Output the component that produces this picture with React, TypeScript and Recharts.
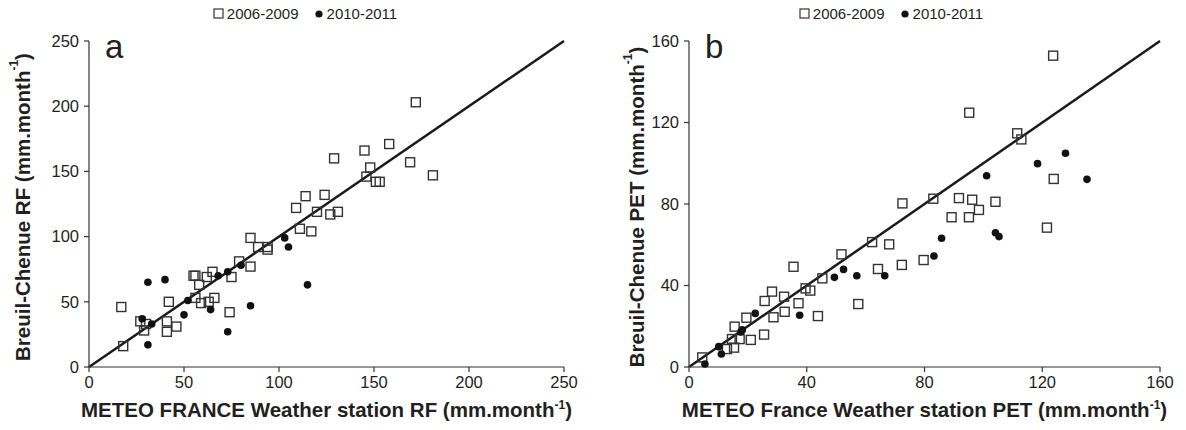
import { ScatterChart, Scatter, XAxis, YAxis, ReferenceLine } from "recharts";

// tick labels
const rfTicks = [0, 50, 100, 150, 200, 250];
const petTicks = [0, 40, 80, 120, 160];
const periods = ["2006-2009", "2010-2011"];

// rainfall, station (x) vs Breuil-Chenue (y)
const rf0609: [number, number][] = [
  [17, 46], [18, 16], [27, 35], [30, 33], [29, 28], [41, 35], [41, 27], [46, 31],
  [42, 50], [55, 70], [56, 70], [58, 63], [62, 69], [65, 73], [75, 69], [79, 81],
  [85, 77], [94, 90], [56, 53], [59, 49], [63, 50], [66, 53], [74, 42], [85, 99],
  [89, 92], [94, 92], [111, 106], [117, 104], [109, 122], [114, 131], [120, 119],
  [124, 132], [127, 117], [131, 119], [129, 160], [145, 166], [148, 153], [146, 146],
  [151, 142], [153, 142], [158, 171], [169, 157], [181, 147], [172, 203],
];
const rf1011: [number, number][] = [
  [31, 65], [40, 67], [28, 37], [33, 33], [31, 17], [50, 40], [52, 51], [64, 44],
  [68, 70], [73, 73], [80, 78], [85, 47], [73, 27], [103, 99], [105, 92], [115, 63],
];

// potential evapotranspiration
const pet0609: [number, number][] = [
  [4.5, 4.7], [12.9, 8.8], [15.3, 9.5], [14.6, 13.7], [17.2, 13.7], [15.5, 19.8],
  [21, 13.3], [19.5, 24.2], [25.5, 15.9], [25.7, 32.4], [28.2, 37], [28.7, 24.4],
  [32.3, 34.5], [32.5, 27.1], [35.5, 49.2], [37.2, 31.3], [39.6, 38.6], [41.2, 37.5],
  [43.8, 25], [45.3, 43.5], [51.8, 55.3], [57.5, 30.9], [62.2, 61.3], [64.2, 48.1],
  [68, 60.2], [72.3, 50.1], [72.5, 80.3], [79.7, 52.5], [83, 82.6], [89.2, 73.5],
  [91.7, 82.9], [95.1, 73.5], [96.2, 82.1], [98.5, 77.1], [104.1, 81.1], [95.2, 124.8],
  [111.5, 114.7], [112.9, 111.7], [123.9, 92.3], [121.6, 68.4], [123.7, 152.8],
];
const pet1011: [number, number][] = [
  [5.4, 1.5], [10.1, 10], [11, 6.4], [17.6, 17.2], [18.1, 18.2], [22.5, 26.3],
  [37.6, 25.4], [49.4, 44], [52.5, 47.9], [57, 44.8], [66.5, 44.8], [83.2, 54.5],
  [85.8, 63.2], [101.1, 93.9], [104.1, 65.9], [105.3, 64], [118.4, 99.8],
  [127.9, 104.9], [135.2, 92.1],
];

const FONT = "'Liberation Sans', Arial, sans-serif";
const INK = "#231f20";

const toPoints = (pairs: [number, number][]) => pairs.map(([x, y]) => ({ x, y }));

function OpenSquare(props: any) {
  const { cx, cy } = props;
  return <rect x={cx - 4.5} y={cy - 4.5} width={9} height={9} fill="none" stroke="#333" strokeWidth={1.4} />;
}

function Dot(props: any) {
  return <circle cx={props.cx} cy={props.cy} r={3.8} fill="#111" />;
}

function XTitle(props: any) {
  const { viewBox, text } = props;
  const { x, y, width } = viewBox;
  return (
    <text x={x + width / 2} y={y + 50} textAnchor="middle" fontFamily={FONT} fontWeight="bold" fontSize={20.5} fill={INK}>
      {text} (mm.month<tspan dy={-8} fontSize={12}>-1</tspan><tspan dy={8}>)</tspan>
    </text>
  );
}

function YTitle(props: any) {
  const { viewBox, text, cx } = props;
  const cy = viewBox.y + viewBox.height / 2 + 3;
  return (
    <text
      x={cx}
      y={cy}
      transform={`rotate(-90 ${cx} ${cy})`}
      textAnchor="middle"
      dominantBaseline="central"
      fontFamily={FONT}
      fontWeight="bold"
      fontSize={20.5}
      fill={INK}
    >
      {text} (mm.month<tspan dy={-8} fontSize={12}>-1</tspan><tspan dy={8}>)</tspan>
    </text>
  );
}

function LegendRow({ center }: { center: number }) {
  return (
    <div
      style={{
        position: "absolute", top: 5, left: center - 110, width: 220,
        display: "flex", justifyContent: "center", alignItems: "center",
        fontFamily: FONT, fontSize: 15, color: INK, whiteSpace: "nowrap",
      }}
    >
      <svg width={11} height={11} style={{ marginRight: 3 }}>
        <rect x={1} y={1} width={9} height={9} fill="none" stroke="#333" strokeWidth={1.2} />
      </svg>
      <span>{periods[0]}</span>
      <svg width={10} height={10} style={{ marginLeft: 15, marginRight: 3 }}>
        <circle cx={5} cy={5} r={3.6} fill="#111" />
      </svg>
      <span>{periods[1]}</span>
    </div>
  );
}

interface PanelProps {
  letter: string;
  max: number;
  ticks: number[];
  a: [number, number][];
  b: [number, number][];
  xTitle: string;
  yTitle: string;
  yAxisWidth: number;
  yTitleX: number;
  rightMargin: number;
  legendCenter: number;
}

function Panel(p: PanelProps) {
  const tick = { fontFamily: FONT, fontSize: 16.5, fill: INK };
  return (
    <div style={{ position: "relative", width: 593, height: 430 }}>
      <ScatterChart width={593} height={430} margin={{ top: 41, right: p.rightMargin, bottom: 0, left: 0 }}>
        <XAxis
          type="number"
          dataKey="x"
          domain={[0, p.max]}
          ticks={p.ticks}
          height={63}
          tick={tick}
          tickSize={5}
          tickMargin={4}
          stroke="#333"
          strokeWidth={1.2}
          label={<XTitle text={p.xTitle} />}
        />
        <YAxis
          type="number"
          dataKey="y"
          domain={[0, p.max]}
          ticks={p.ticks}
          width={p.yAxisWidth}
          tick={tick}
          tickSize={5}
          tickMargin={5}
          stroke="#333"
          strokeWidth={1.2}
          label={<YTitle text={p.yTitle} cx={p.yTitleX} />}
        />
        <ReferenceLine segment={[{ x: 0, y: 0 }, { x: p.max, y: p.max }]} stroke="#1a1a1a" strokeWidth={2.5} />
        <Scatter name={periods[0]} data={toPoints(p.a)} shape={OpenSquare} isAnimationActive={false} />
        <Scatter name={periods[1]} data={toPoints(p.b)} shape={Dot} isAnimationActive={false} />
      </ScatterChart>
      <LegendRow center={p.legendCenter} />
      <div
        style={{
          position: "absolute", top: 30, left: p.yAxisWidth + 16,
          fontFamily: FONT, fontSize: 33, lineHeight: 1, color: INK,
        }}
      >
        {p.letter}
      </div>
    </div>
  );
}

export default function App() {
  return (
    <div style={{ position: "absolute", left: 0, top: 0, width: 1186, height: 430, background: "#fff", display: "flex" }}>
      <Panel
        letter="a"
        max={250}
        ticks={rfTicks}
        a={rf0609}
        b={rf1011}
        xTitle="METEO FRANCE Weather station RF"
        yTitle="Breuil-Chenue RF"
        yAxisWidth={89}
        yTitleX={22}
        rightMargin={29}
        legendCenter={305}
      />
      <Panel
        letter="b"
        max={160}
        ticks={petTicks}
        a={pet0609}
        b={pet1011}
        xTitle="METEO France Weather station PET"
        yTitle="Breuil-Chenue PET"
        yAxisWidth={96}
        yTitleX={43}
        rightMargin={26}
        legendCenter={298}
      />
    </div>
  );
}
